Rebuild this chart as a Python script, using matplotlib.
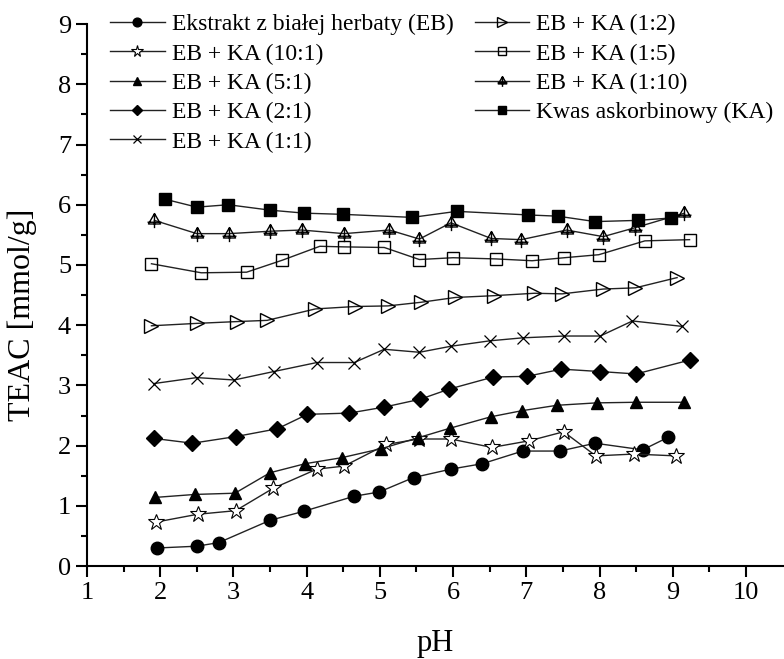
import numpy as np
import matplotlib
matplotlib.use("Agg")
import matplotlib.pyplot as plt
from matplotlib.path import Path

plt.rcParams['font.family'] = ['Liberation Serif', 'DejaVu Serif']

# data: pH vs TEAC [mmol/g]
ph_eb = [1.95, 2.5, 2.8, 3.5, 3.96, 4.65, 4.99, 5.46, 5.97, 6.40, 6.95, 7.46, 7.94, 8.59, 8.94]
teac_eb = [0.30, 0.33, 0.39, 0.76, 0.91, 1.16, 1.23, 1.47, 1.61, 1.70, 1.91, 1.91, 2.04, 1.93, 2.14]

ph_101 = [1.94, 2.51, 3.03, 3.54, 4.14, 4.51, 5.09, 5.53, 5.97, 6.53, 7.04, 7.51, 7.95, 8.47, 9.04]
teac_101 = [0.73, 0.86, 0.92, 1.29, 1.61, 1.66, 2.02, 2.11, 2.11, 1.97, 2.08, 2.23, 1.83, 1.86, 1.83]

ph_51 = [1.93, 2.48, 3.02, 3.50, 3.98, 4.48, 5.02, 5.52, 5.96, 6.52, 6.94, 7.42, 7.96, 8.50, 9.15]
teac_51 = [1.14, 1.19, 1.21, 1.55, 1.70, 1.80, 1.95, 2.13, 2.29, 2.48, 2.58, 2.67, 2.71, 2.72, 2.72]

ph_21 = [1.91, 2.44, 3.03, 3.60, 4.01, 4.58, 5.06, 5.55, 5.95, 6.55, 7.01, 7.48, 8.01, 8.50, 9.23]
teac_21 = [2.12, 2.04, 2.15, 2.28, 2.52, 2.54, 2.64, 2.77, 2.94, 3.14, 3.15, 3.27, 3.23, 3.19, 3.42]

ph_11 = [1.91, 2.50, 3.01, 3.55, 4.14, 4.65, 5.06, 5.54, 5.97, 6.50, 6.95, 7.52, 8.01, 8.45, 9.13]
teac_11 = [3.03, 3.13, 3.09, 3.23, 3.38, 3.38, 3.60, 3.55, 3.65, 3.74, 3.79, 3.82, 3.82, 4.07, 3.98]

ph_12 = [1.88, 2.50, 3.05, 3.46, 4.12, 4.66, 5.11, 5.56, 6.03, 6.56, 7.11, 7.49, 8.05, 8.49, 9.06]
teac_12 = [3.99, 4.03, 4.06, 4.08, 4.27, 4.31, 4.32, 4.38, 4.46, 4.49, 4.53, 4.52, 4.60, 4.62, 4.79]

ph_15 = [1.88, 2.56, 3.18, 3.67, 4.18, 4.51, 5.06, 5.54, 6.00, 6.59, 7.08, 7.52, 7.99, 8.62, 9.23]
teac_15 = [5.02, 4.87, 4.88, 5.08, 5.31, 5.30, 5.29, 5.09, 5.12, 5.10, 5.07, 5.12, 5.17, 5.40, 5.42]

ph_110 = [1.92, 2.50, 2.94, 3.50, 3.93, 4.51, 5.13, 5.54, 5.97, 6.52, 6.93, 7.55, 8.05, 8.49, 9.16]
teac_110 = [5.74, 5.52, 5.52, 5.56, 5.58, 5.52, 5.58, 5.43, 5.70, 5.44, 5.42, 5.58, 5.47, 5.62, 5.86]

ph_ka = [2.07, 2.50, 2.93, 3.50, 3.97, 4.50, 5.44, 6.05, 7.03, 7.43, 7.94, 8.52, 8.98]
teac_ka = [6.09, 5.96, 6.00, 5.91, 5.86, 5.84, 5.79, 5.89, 5.83, 5.81, 5.72, 5.74, 5.78]

# triangle with a cross through it
tri_cross = Path(
    [(0, 1), (-0.87, -0.5), (0.87, -0.5), (0, 1),
     (0, 1), (0, -1.1),
     (-1.0, -0.25), (1.0, -0.25)],
    [Path.MOVETO, Path.LINETO, Path.LINETO, Path.CLOSEPOLY,
     Path.MOVETO, Path.LINETO,
     Path.MOVETO, Path.LINETO])

fig = plt.figure(figsize=(7.84, 6.59), dpi=100)
ax = fig.add_axes([0.111, 0.141, 0.889, 0.8225])

lc = '#222222'
kw = dict(color=lc, lw=1.0, mec='black')
ax.plot(ph_eb, teac_eb, marker='o', ms=9, mfc='black', label='Ekstrakt z białej herbaty (EB)', **kw)
ax.plot(ph_101, teac_101, marker='*', ms=12, mfc='white', mew=0.8, label='EB + KA (10:1)', **kw)
ax.plot(ph_51, teac_51, marker='^', ms=9, mfc='black', label='EB + KA (5:1)', **kw)
ax.plot(ph_21, teac_21, marker='D', ms=8, mfc='black', label='EB + KA (2:1)', **kw)
ax.plot(ph_11, teac_11, marker='x', ms=9, mew=0.9, label='EB + KA (1:1)', **kw)
ax.plot(ph_12, teac_12, marker='>', ms=10, mfc='none', mew=1.0, label='EB + KA (1:2)', **kw)
ax.plot(ph_15, teac_15, marker='s', ms=8, mfc='none', mew=1.0, label='EB + KA (1:5)', **kw)
ax.plot(ph_110, teac_110, marker=tri_cross, ms=11, mfc='none', mew=1.0, label='EB + KA (1:10)', **kw)
ax.plot(ph_ka, teac_ka, marker='s', ms=8, mfc='black', label='Kwas askorbinowy (KA)', **kw)

ax.set_xlim(1, 10.52)
ax.set_ylim(0, 9)
ax.set_xticks(range(1, 11))
ax.set_yticks(range(0, 10))
ax.set_xticks(np.arange(1.5, 10.5, 1), minor=True)
ax.set_yticks(np.arange(0.5, 9, 1), minor=True)
for s in ['top', 'right']:
    ax.spines[s].set_visible(False)
for s in ['left', 'bottom']:
    ax.spines[s].set_linewidth(1.5)
ax.tick_params(which='major', direction='out', length=8, width=1.5, labelsize=19)
ax.tick_params(which='minor', direction='out', length=4, width=1.5)

ax.set_xlabel('pH', fontsize=22, labelpad=18)
ax.set_ylabel('TEAC [mmol/g]', fontsize=23)
ax.yaxis.set_label_coords(-0.072, 0.463)

ax.legend(ncol=2, loc='upper left', bbox_to_anchor=(0.013, 1.045), frameon=False,
          fontsize=17, markerscale=0.7, handlelength=2.3, handletextpad=0.3,
          columnspacing=0.9, labelspacing=0.33, borderaxespad=0.2)

fig.savefig('out.png', dpi=100)
